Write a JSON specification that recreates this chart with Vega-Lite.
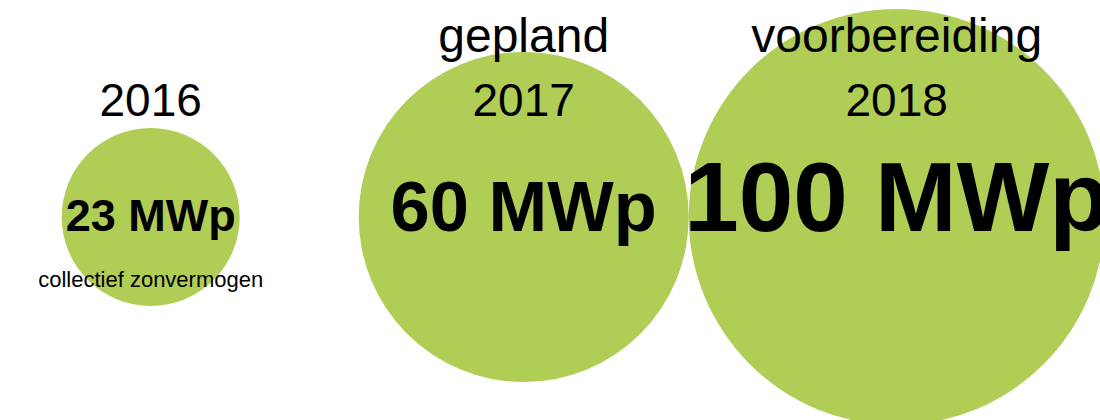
{
  "$schema": "https://vega.github.io/schema/vega-lite/v6.json",
  "width": 1100,
  "height": 406,
  "autosize": "none",
  "padding": {"left": 0, "right": 0, "top": 14, "bottom": 0},
  "background": "white",
  "config": {"view": {"stroke": null}, "font": "Liberation Sans"},
  "data": {
    "values": [
      {"year": 2016, "value": 23, "label": "23 MWp", "status": "", "note": "collectief zonvermogen"},
      {"year": 2017, "value": 60, "label": "60 MWp", "status": "gepland", "note": ""},
      {"year": 2018, "value": 100, "label": "100 MWp", "status": "voorbereiding", "note": ""}
    ]
  },
  "encoding": {
    "x": {
      "field": "year",
      "type": "quantitative",
      "scale": {"domain": [2015.596, 2018.545], "zero": false, "nice": false},
      "axis": null
    }
  },
  "resolve": {"scale": {"size": "independent"}, "legend": {"size": "independent"}},
  "layer": [
    {
      "mark": {"type": "circle", "color": "#b0cd55", "opacity": 1},
      "encoding": {
        "size": {
          "field": "value",
          "type": "quantitative",
          "scale": {"domain": [23, 60, 100], "range": [31684, 108900, 173056], "zero": false},
          "legend": null
        }
      }
    },
    {
      "mark": {"type": "text", "fontSize": 48, "dy": -165, "baseline": "alphabetic", "color": "black"},
      "encoding": {"text": {"field": "status", "type": "nominal"}}
    },
    {
      "mark": {"type": "text", "fontSize": 46, "dy": -101, "baseline": "alphabetic", "color": "black"},
      "encoding": {"text": {"field": "year", "type": "nominal"}}
    },
    {
      "mark": {"type": "text", "fontWeight": "bold", "dy": 14, "baseline": "alphabetic", "color": "black"},
      "encoding": {
        "text": {"field": "label", "type": "nominal"},
        "size": {
          "field": "value",
          "type": "quantitative",
          "scale": {"domain": [23, 100], "range": [45, 98], "zero": false},
          "legend": null
        }
      }
    },
    {
      "mark": {"type": "text", "fontSize": 22, "dy": 70, "baseline": "alphabetic", "color": "black"},
      "encoding": {"text": {"field": "note", "type": "nominal"}}
    }
  ]
}
